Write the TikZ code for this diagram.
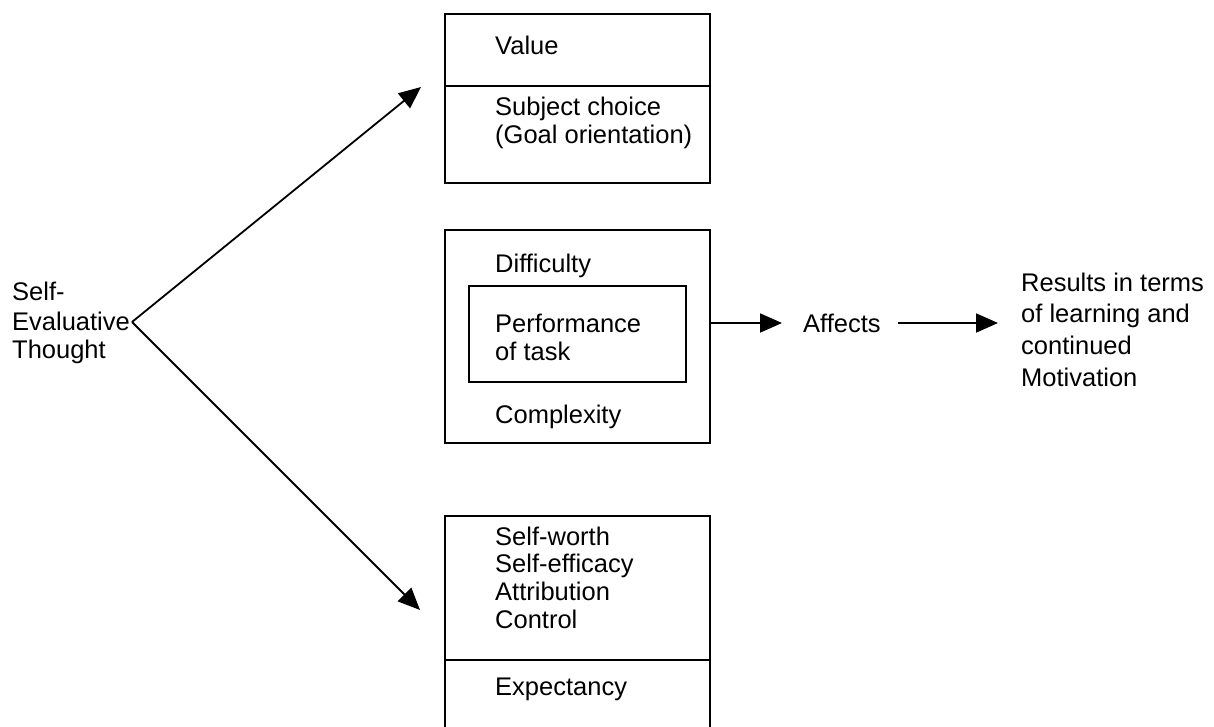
\documentclass[tikz,border=0pt]{standalone}
\usepackage{fontspec}
\setmainfont{Liberation Sans}
\usetikzlibrary{arrows.meta}
\begin{document}
\begin{tikzpicture}[x=1pt,y=-1pt,
  every node/.style={font=\fontsize{25.5}{28}\selectfont, inner sep=0pt},
  lbl/.style={anchor=base west},
  box/.style={draw, line width=1.7pt, minimum width=265pt},
  ln/.style={line width=1.7pt},
  arr/.style={line width=1.8pt, -{Triangle[length=22pt,width=19pt]}}]
\clip (0,0) rectangle (1214,727);
% left label
\node[lbl] (se1) at (12,300) {Self-};
\node[lbl] (se2) at (12,330) {Evaluative};
\node[lbl] (se3) at (12,358) {Thought};
\coordinate (apex) at (132,322);
% box 1
\node[box, minimum height=169pt] (b1) at (577.5,98.5) {};
\draw[ln] (b1.west |- 0,86) -- (b1.east |- 0,86);
\node[lbl] (val) at (495,55) {Value};
\node[lbl] (sc1) at (495,116) {Subject choice};
\node[lbl] (sc2) at (495,144) {(Goal orientation)};
% box 2
\node[box, minimum height=213pt] (b2) at (577.5,336.5) {};
\node[box, minimum width=217pt, minimum height=96pt] (b2in) at (577.5,334) {};
\node[lbl] (dif) at (495,272) {Difficulty};
\node[lbl] (pf1) at (495,332) {Performance};
\node[lbl] (pf2) at (495,360) {of task};
\node[lbl] (cpx) at (495,423) {Complexity};
% box 3 (cut at page bottom)
\node[box, minimum height=244pt] (b3) at (577.5,638) {};
\draw[ln] (b3.west |- 0,660) -- (b3.east |- 0,660);
\node[lbl] (sw) at (495,545) {Self-worth};
\node[lbl] (sef) at (495,572) {Self-efficacy};
\node[lbl] (att) at (495,600) {Attribution};
\node[lbl] (ctl) at (495,628) {Control};
\node[lbl] (exp) at (495,695) {Expectancy};
% right side
\node[lbl] (aff) at (803,332) {Affects};
\node[lbl] (r1) at (1021,291) {Results in terms};
\node[lbl] (r2) at (1021,322) {of learning and};
\node[lbl] (r3) at (1021,354) {continued};
\node[lbl] (r4) at (1021,386) {Motivation};
% arrows
\coordinate (t1) at (421,87);
\coordinate (t2) at (420,610);
\draw[arr] (apex) -- (t1);
\draw[arr] (apex) -- (t2);
\coordinate (a1s) at (b2.east |- 0,323);
\coordinate (a1e) at ([xshift=-21pt]aff.west |- 0,323);
\draw[arr] (a1s) -- (a1e);
\coordinate (a2s) at ([xshift=17pt]aff.east |- 0,323);
\coordinate (a2e) at ([xshift=-23pt]r1.west |- 0,323);
\draw[arr] (a2s) -- (a2e);
\end{tikzpicture}
\end{document}
